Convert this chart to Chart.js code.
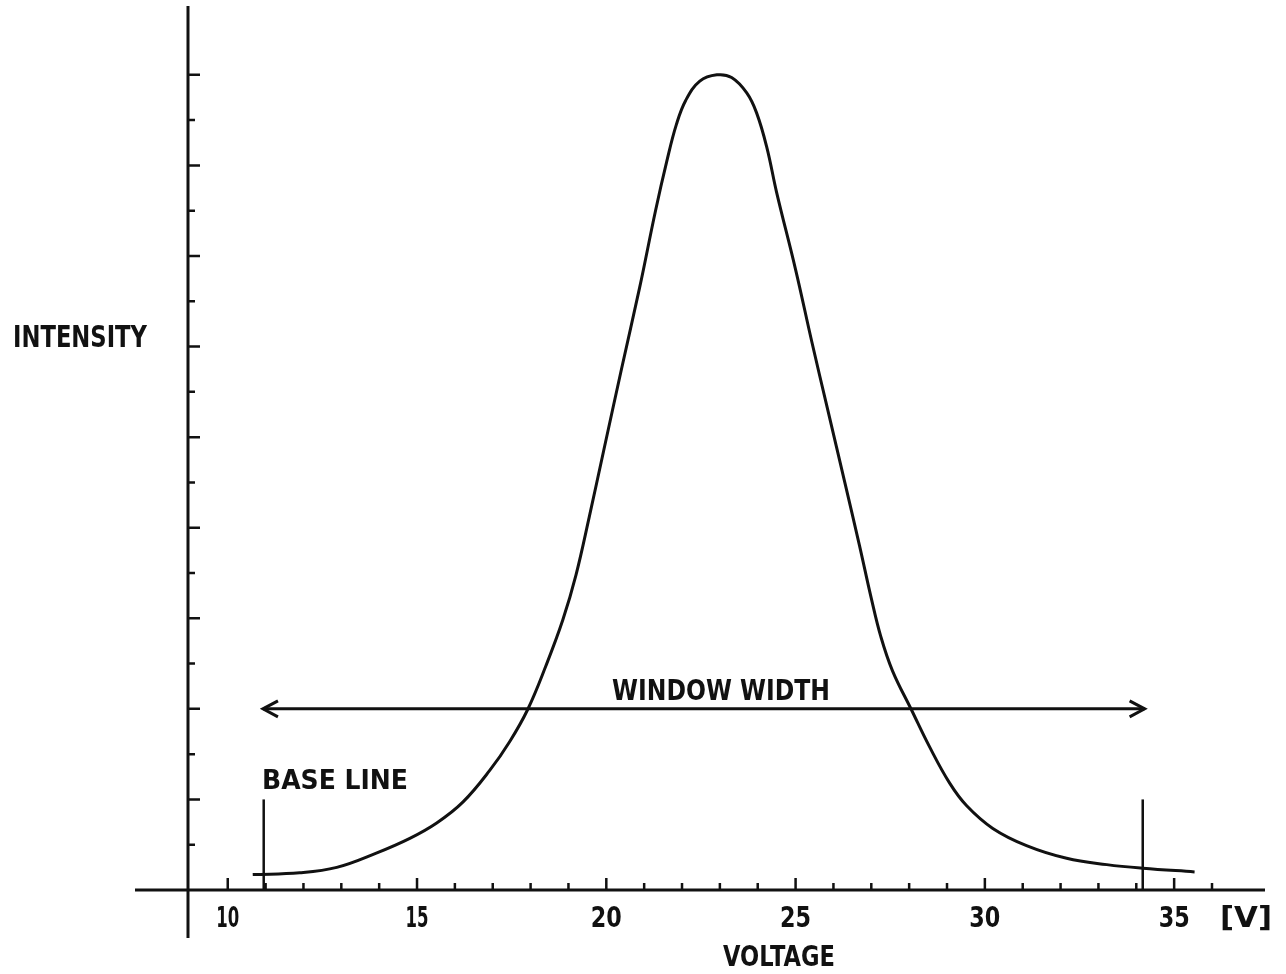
<!DOCTYPE html>
<html>
<head>
<meta charset="utf-8">
<script src="https://cdn.jsdelivr.net/npm/chart.js@4.4.1/dist/chart.umd.min.js"></script>
<style>
  body { margin: 0; background: #fff; }
  #wrap { width: 1286px; height: 974px; }
</style>
</head>
<body>
<div id="wrap"><canvas id="myChart"></canvas></div>
<script>
// peak curve
var voltage = [10.66, 11.90, 12.88, 13.94, 14.81, 15.52, 16.21, 16.92, 17.45, 17.92, 18.40, 18.85, 19.20, 19.55, 19.93, 20.40, 20.88, 21.30, 21.60, 21.85, 22.10, 22.47, 22.92, 23.31, 23.71, 23.97, 24.24, 24.50, 25.00, 25.43, 25.85, 26.30, 26.69, 27.00, 27.25, 27.56, 28.06, 28.54, 29.07, 29.52, 30.21, 31.10, 32.16, 33.22, 34.17, 35.54];
var intensity = [0.17, 0.19, 0.25, 0.41, 0.57, 0.74, 0.97, 1.32, 1.64, 1.99, 2.47, 2.98, 3.48, 4.12, 4.85, 5.75, 6.65, 7.50, 8.05, 8.45, 8.72, 8.93, 9.00, 8.97, 8.80, 8.58, 8.20, 7.70, 6.85, 6.05, 5.30, 4.50, 3.80, 3.22, 2.80, 2.42, 1.99, 1.58, 1.18, 0.93, 0.68, 0.49, 0.35, 0.28, 0.24, 0.20];

// window width arrow and the two base line markers
var windowEnds = [10.93, 34.22];
var windowLevel = 2;
var baseLineAt = [10.95, 34.17];
var baseLineTop = 1;

// axes
var yAxisAt = 8.95;
var xTickValues = [10, 15, 20, 25, 30, 35];
var xTickLabels = ['10', '15', '20', '25', '30', '35'];
var xMinorTicks = [11, 12, 13, 14, 16, 17, 18, 19, 21, 22, 23, 24, 26, 27, 28, 29, 31, 32, 33, 34, 36];
var yMajorTicks = [1, 2, 3, 4, 5, 6, 7, 8, 9];
var yMinorTicks = [0.5, 1.5, 2.5, 3.5, 4.5, 5.5, 6.5, 7.5, 8.5];

var ink = '#111';

function pairs(xs, ys) {
    return xs.map(function(v, i) { return {x: v, y: ys[i]}; });
}

// hand lettered text, squeezed to the width it has on the drawing
function letter(ctx, text, x, base, size, width, align) {
    ctx.save();
    ctx.font = 'bold ' + size + 'px "DejaVu Sans"';
    var w = ctx.measureText(text).width;
    var sx = width ? width / w : 1;
    ctx.translate(x, base);
    ctx.scale(sx, 1);
    ctx.textAlign = align || 'left';
    ctx.textBaseline = 'alphabetic';
    ctx.fillStyle = ink;
    ctx.fillText(text, 0, 0);
    ctx.restore();
}

var paper = {
    id: 'paper',
    afterDatasetsDraw: function(chart) {
        var ctx = chart.ctx, sx = chart.scales.x, sy = chart.scales.y, area = chart.chartArea;
        var x0 = sx.getPixelForValue(yAxisAt), y0 = sy.getPixelForValue(0);
        ctx.save();
        ctx.strokeStyle = ink;
        ctx.lineCap = 'butt';
        // axis lines
        ctx.lineWidth = 3;
        ctx.beginPath();
        ctx.moveTo(area.left, y0); ctx.lineTo(area.right, y0);
        ctx.moveTo(x0, area.top); ctx.lineTo(x0, area.bottom);
        ctx.stroke();
        // ticks point inwards
        ctx.lineWidth = 2.5;
        ctx.beginPath();
        xTickValues.forEach(function(v) {
            var p = sx.getPixelForValue(v);
            ctx.moveTo(p, y0); ctx.lineTo(p, y0 - 12);
        });
        xMinorTicks.forEach(function(v) {
            var p = sx.getPixelForValue(v);
            ctx.moveTo(p, y0); ctx.lineTo(p, y0 - 7);
        });
        yMajorTicks.forEach(function(v) {
            var p = sy.getPixelForValue(v);
            ctx.moveTo(x0, p); ctx.lineTo(x0 + 12, p);
        });
        yMinorTicks.forEach(function(v) {
            var p = sy.getPixelForValue(v);
            ctx.moveTo(x0, p); ctx.lineTo(x0 + 7, p);
        });
        ctx.stroke();
        // open arrow heads on the window width line
        var ay = sy.getPixelForValue(windowLevel);
        var l = sx.getPixelForValue(windowEnds[0]), r = sx.getPixelForValue(windowEnds[1]);
        ctx.lineWidth = 3;
        ctx.lineJoin = 'miter';
        ctx.beginPath();
        ctx.moveTo(l + 15, ay - 8); ctx.lineTo(l, ay); ctx.lineTo(l + 15, ay + 8);
        ctx.moveTo(r - 15, ay - 8); ctx.lineTo(r, ay); ctx.lineTo(r - 15, ay + 8);
        ctx.stroke();
        ctx.restore();
    },
    afterDraw: function(chart) {
        var ctx = chart.ctx, sx = chart.scales.x;
        xTickValues.forEach(function(v, i) {
            var w = xTickLabels[i].charAt(0) === '1' ? 23 : 31;
            letter(ctx, xTickLabels[i], sx.getPixelForValue(v), 927, 28, w, 'center');
        });
        letter(ctx, '[V]', 1220, 927, 28, 52, 'left');
        letter(ctx, 'VOLTAGE', 723, 966, 29, 112, 'left');
        letter(ctx, 'INTENSITY', 13, 347, 30, 134, 'left');
        letter(ctx, 'WINDOW WIDTH', 612, 700, 28, 218, 'left');
        letter(ctx, 'BASE LINE', 262, 789, 27, 146, 'left');
    }
};

var ctx = document.getElementById('myChart').getContext('2d');
var myChart = new Chart(ctx, {
    type: 'scatter',
    data: {
        datasets: [{
            label: 'intensity',
            data: pairs(voltage, intensity),
            showLine: true,
            borderColor: ink,
            borderWidth: 3,
            pointRadius: 0,
            tension: 0.4,
        }, {
            label: 'window width',
            data: pairs(windowEnds, [windowLevel, windowLevel]),
            showLine: true,
            borderColor: ink,
            borderWidth: 3,
            pointRadius: 0,
        }, {
            label: 'base line left',
            data: pairs([baseLineAt[0], baseLineAt[0]], [0, baseLineTop]),
            showLine: true,
            borderColor: ink,
            borderWidth: 2.5,
            pointRadius: 0,
        }, {
            label: 'base line right',
            data: pairs([baseLineAt[1], baseLineAt[1]], [0, baseLineTop]),
            showLine: true,
            borderColor: ink,
            borderWidth: 2.5,
            pointRadius: 0,
        }]
    },
    options: {
        responsive: true,
        maintainAspectRatio: false,
        animation: false,
        layout: {
            padding: {left: 135, right: 21, top: 6, bottom: 36}
        },
        plugins: {
            legend: {display: false},
            tooltip: {enabled: false}
        },
        scales: {
            x: {type: 'linear', display: false, min: 7.55, max: 37.4},
            y: {type: 'linear', display: false, min: -0.53, max: 9.76}
        }
    },
    plugins: [paper]
});
</script>
</body>
</html>
